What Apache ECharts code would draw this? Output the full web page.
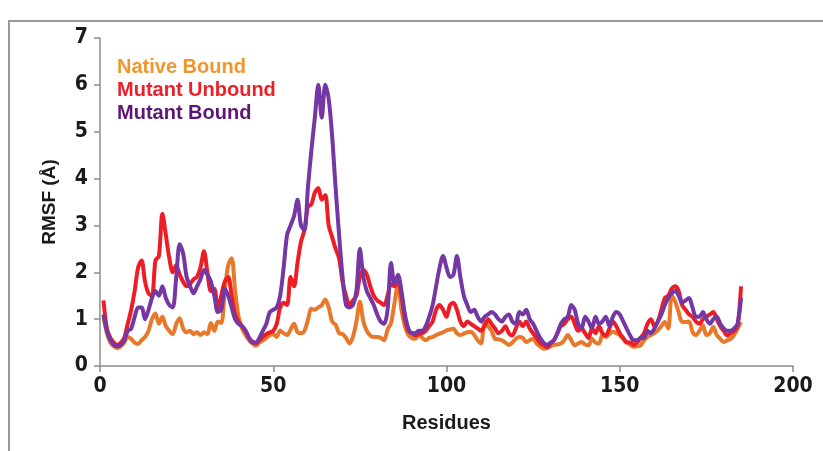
<!DOCTYPE html>
<html>
<head>
<meta charset="utf-8">
<script src="https://cdn.jsdelivr.net/npm/echarts@6/dist/echarts.min.js"></script>
<style>
  html, body { margin: 0; padding: 0; background: #fff; }
  #rmsfChart { width: 823px; height: 451px; }
</style>
</head>
<body>
<div id="rmsfChart"></div>
<script>
// residues 1..185
var residues = [];
for (var r = 1; r <= 185; r++) residues.push(r);

var seriesNames = ['Native Bound', 'Mutant Unbound', 'Mutant Bound'];

var nativeBound = [
  1.05, 0.7, 0.5, 0.42, 0.38, 0.42, 0.5, 0.62, 0.58, 0.5,
  0.47, 0.55, 0.62, 0.75, 1.0, 1.12, 0.9, 1.05, 0.85, 0.75,
  0.68, 0.9, 1.02, 0.8, 0.72, 0.75, 0.68, 0.72, 0.66, 0.72,
  0.68, 0.92, 0.75, 0.95, 0.92, 1.6, 2.15, 2.3, 1.6, 1.05,
  0.8, 0.66, 0.55, 0.48, 0.43, 0.5, 0.55, 0.6, 0.66, 0.68,
  0.62, 0.76, 0.7, 0.66, 0.78, 0.9, 0.72, 0.7, 0.75, 0.98,
  1.22, 1.2, 1.25, 1.3, 1.42, 1.25, 0.95, 0.88, 0.7, 0.68,
  0.6, 0.48, 0.62, 0.95, 1.37, 0.95, 0.75, 0.65, 0.62, 0.62,
  0.6, 0.55, 0.78, 0.92, 1.35, 1.75, 1.2, 0.85, 0.66, 0.6,
  0.58, 0.66, 0.6, 0.55, 0.6, 0.62, 0.66, 0.69, 0.72, 0.76,
  0.78, 0.8, 0.7, 0.66, 0.69, 0.72, 0.73, 0.66, 0.55, 0.48,
  0.94, 0.85, 0.75, 0.58, 0.57, 0.55, 0.5, 0.45, 0.5, 0.58,
  0.62, 0.6, 0.51, 0.55, 0.58, 0.48, 0.42, 0.37, 0.38, 0.42,
  0.45, 0.46, 0.48, 0.55, 0.66, 0.55, 0.44, 0.48, 0.51, 0.46,
  0.44, 0.58, 0.5, 0.48, 0.66, 0.62, 0.68, 0.73, 0.7, 0.66,
  0.58, 0.51, 0.45, 0.41, 0.42, 0.44, 0.55, 0.62, 0.66, 0.7,
  0.76, 0.85, 0.94, 0.8, 1.51, 1.37, 1.15, 0.94, 0.94, 0.95,
  0.73, 0.66, 0.75, 0.87, 0.66, 0.7, 0.83, 0.66, 0.58, 0.51,
  0.55, 0.58, 0.66, 0.8, 0.94
];

var mutantUnbound = [
  1.4, 0.8, 0.6, 0.5, 0.45, 0.5, 0.6, 0.9, 1.2, 1.6,
  2.1, 2.25, 1.8, 1.55, 1.5, 2.25, 2.35, 3.25, 2.8, 2.3,
  2.0, 2.15, 1.95, 1.8, 1.7, 1.75, 1.85, 1.9, 2.1, 2.45,
  2.0, 1.6, 1.65, 1.2, 1.5, 1.8, 1.9, 1.5, 1.1, 0.95,
  0.85, 0.75, 0.6, 0.52, 0.48, 0.55, 0.62, 0.68, 0.72, 0.75,
  0.9, 1.25, 1.35, 1.3, 1.9, 1.7, 2.2, 2.65, 2.9, 3.4,
  3.45, 3.7, 3.8, 3.55, 3.65, 3.0, 2.75, 2.5, 2.3, 1.8,
  1.5, 1.3, 1.4, 1.5, 1.9, 2.05, 1.95, 1.7, 1.5, 1.4,
  1.35, 1.3, 1.5, 1.75, 1.7, 1.8, 1.5, 1.0, 0.75, 0.7,
  0.65, 0.68, 0.7, 0.75, 0.85, 0.95, 1.2, 1.3, 1.2, 1.05,
  1.3, 1.35, 1.2, 0.95, 0.85, 0.95, 0.9, 0.85, 0.8, 0.75,
  0.85, 1.0, 0.9, 0.8, 0.7, 0.75, 0.85, 0.7, 0.65, 0.8,
  0.95, 0.85, 0.95, 0.8, 0.7, 0.6, 0.5, 0.45, 0.4, 0.48,
  0.55, 0.7, 0.85, 0.9, 1.0, 1.05, 0.9, 0.75, 0.8, 0.7,
  0.6, 0.8, 0.7, 0.85, 0.7, 0.65, 0.8, 0.95, 0.85, 0.7,
  0.6, 0.5, 0.5, 0.45, 0.5, 0.6, 0.7, 0.9, 1.0, 0.85,
  0.95, 1.2, 1.45, 1.5, 1.65, 1.7, 1.6, 1.3, 1.2, 1.1,
  1.05, 0.95, 0.9, 1.0, 1.05, 1.1, 1.15, 1.0, 0.85, 0.75,
  0.65, 0.7, 0.75, 0.85, 1.7
];

var mutantBound = [
  1.1, 0.75, 0.55, 0.45, 0.42, 0.45, 0.55, 0.75, 0.8, 1.05,
  1.25, 1.25, 1.0, 1.2, 1.45, 1.6, 1.5, 1.7, 1.45, 1.3,
  1.25, 1.9, 2.6, 2.4, 1.9, 1.7, 1.55, 1.7, 1.85, 2.05,
  1.95, 1.8, 1.5, 1.15, 1.2, 1.65, 1.5, 1.25, 1.0, 0.9,
  0.85, 0.75, 0.6, 0.5, 0.5, 0.6, 0.75, 0.9, 1.15, 1.2,
  1.25, 1.5, 2.1, 2.8, 3.0, 3.2, 3.55, 3.0, 2.9, 3.8,
  4.6, 5.3, 6.0, 5.3, 6.0, 5.7, 4.9, 3.8, 2.8, 1.9,
  1.3, 1.25, 1.3, 1.6, 2.5, 1.9, 1.6, 1.45, 1.3, 1.1,
  0.95, 0.9, 1.2, 2.2, 1.75, 1.95, 1.6, 1.1, 0.8, 0.7,
  0.7, 0.75, 0.75, 0.85, 1.05, 1.3, 1.7, 2.1, 2.35, 2.1,
  1.9, 1.95, 2.35, 1.9, 1.5, 1.3, 1.15, 1.2, 1.05, 0.95,
  1.05, 1.1, 1.15, 1.1, 1.0, 0.95, 1.05, 1.1, 0.95, 0.9,
  1.15, 1.1, 1.2, 1.0, 0.9, 0.75, 0.6, 0.5, 0.45, 0.5,
  0.55, 0.7, 0.9, 1.0, 1.05, 1.3, 1.2, 0.9, 0.8, 1.05,
  0.95, 0.8, 1.05, 0.9, 0.95, 1.05, 0.85, 1.05, 1.15, 1.1,
  0.95, 0.8, 0.65, 0.55, 0.55, 0.6, 0.6, 0.75, 0.7, 0.8,
  0.95, 1.1, 1.3, 1.45, 1.55, 1.6, 1.5, 1.35, 1.4, 1.45,
  1.25, 1.05, 1.05, 1.15, 1.0, 0.9, 1.0, 1.05, 0.9, 0.8,
  0.75, 0.75, 0.8, 0.9, 1.45
];

var xTicks = [0, 50, 100, 150, 200];
var yTicks = [0, 1, 2, 3, 4, 5, 6, 7];

var lineColors = ['#E8782A', '#EE1D25', '#7437A3'];
var legendColors = ['#F0962E', '#EA2128', '#5E1675'];

function pairs(vals) {
  return vals.map(function (v, i) { return [residues[i], v]; });
}

var myChart = echarts.init(document.getElementById('rmsfChart'));
var fontFam = '"Liberation Sans", Arial, sans-serif';
var narrowFam = '"DejaVu Sans Condensed", "Liberation Sans Narrow", sans-serif';

var option = {
  backgroundColor: '#fff',
  animation: false,
  graphic: [{
    type: 'rect',
    shape: { x: 9, y: 21, width: 830, height: 460 },
    style: { fill: 'none', stroke: '#9a9a9a', lineWidth: 2 },
    silent: true
  }],
  legend: {
    orient: 'vertical',
    left: 112,
    top: 52,
    icon: 'none',
    itemGap: 3,
    itemWidth: 0,
    data: seriesNames.map(function (n, i) {
      return { name: n, textStyle: { color: legendColors[i] } };
    }),
    textStyle: { fontFamily: fontFam, fontWeight: 'bold', fontSize: 20, padding: [0, 0, 0, -5] }
  },
  grid: { left: 100, right: 30, top: 38, bottom: 85 },
  xAxis: {
    type: 'value',
    min: xTicks[0],
    max: xTicks[xTicks.length - 1],
    interval: 50,
    name: 'Residues',
    nameLocation: 'middle',
    nameGap: 47,
    nameTextStyle: { fontFamily: fontFam, fontWeight: 'bold', fontSize: 20, color: '#1a1a1a' },
    axisLine: { lineStyle: { color: '#8c8c8c', width: 1.5 } },
    axisTick: { show: true, length: 6, lineStyle: { color: '#8c8c8c', width: 1.5 } },
    axisLabel: { fontFamily: narrowFam, fontWeight: 'bold', fontSize: 21, color: '#1a1a1a', margin: 10 },
    splitLine: { show: false }
  },
  yAxis: {
    type: 'value',
    min: yTicks[0],
    max: yTicks[yTicks.length - 1],
    interval: 1,
    name: 'RMSF (Å)',
    nameLocation: 'middle',
    nameGap: 41,
    nameRotate: 90,
    nameTextStyle: { fontFamily: fontFam, fontWeight: 'bold', fontSize: 19, color: '#1a1a1a' },
    axisLine: { show: true, lineStyle: { color: '#8c8c8c', width: 1.5 } },
    axisTick: { show: true, length: 6, lineStyle: { color: '#8c8c8c', width: 1.5 } },
    axisLabel: { fontFamily: narrowFam, fontWeight: 'bold', fontSize: 21, color: '#1a1a1a', margin: 12 },
    splitLine: { show: false }
  },
  series: [nativeBound, mutantUnbound, mutantBound].map(function (vals, i) {
    return {
      name: seriesNames[i],
      type: 'line',
      data: pairs(vals),
      showSymbol: false,
      smooth: 0.3,
      color: lineColors[i],
      lineStyle: { width: 4, color: lineColors[i] }
    };
  })
};
myChart.setOption(option);
</script>
</body>
</html>
